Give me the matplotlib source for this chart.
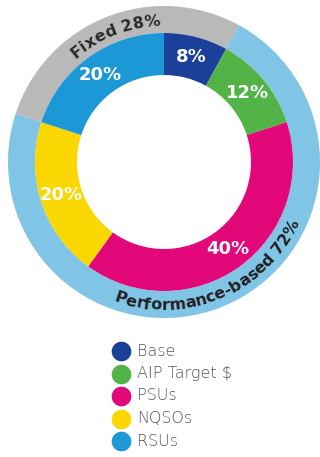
import numpy as np
import matplotlib.pyplot as plt
from matplotlib.font_manager import FontProperties, findfont, get_font

# pay mix, inner ring, clockwise from 12 o'clock
components = ['Base', 'AIP Target $', 'PSUs', 'NQSOs', 'RSUs']
shares = [8, 12, 40, 20, 20]
colors = ['#1b4099', '#52b447', '#e2087a', '#fad700', '#1c98d6']

# outer ring: fixed (RSUs + Base) vs performance-based
groups = ['Fixed', 'Performance-based']
group_shares = [28, 72]
group_colors = ['#b9b9b9', '#80c4e6']

W, H = 320, 457
fig = plt.figure(figsize=(W / 100, H / 100), dpi=100)
ax = fig.add_axes([0, 0, 1, 1])

cx, cy = 164, H - 162
r_out, r_mid, r_in = 156, 129, 87

# outer ring starts where the RSUs slice starts
start_outer = 90 + 360 * shares[-1] / 100
ax.pie(group_shares, colors=group_colors, radius=r_out, center=(cx, cy),
       startangle=start_outer, counterclock=False,
       wedgeprops=dict(width=r_out - r_mid, linewidth=0))
ax.pie(shares, colors=colors, radius=r_mid, center=(cx, cy),
       startangle=90, counterclock=False,
       wedgeprops=dict(width=r_mid - r_in, linewidth=0),
       autopct=lambda p: f'{p:.0f}%', pctdistance=(r_mid + r_in) / 2 / r_mid,
       textprops=dict(color='white', fontsize=13, fontweight='bold'))


def arc_text(s, radius, mid_deg, size, color, outward=True, spacing=1.0):
    fp = FontProperties(family='DejaVu Sans', weight='bold', size=size)
    font = get_font(findfont(fp))
    font.set_size(size, fig.dpi)

    # horizontal advance of each glyph, in pixels
    advs = []
    for ch in s:
        g = font.load_char(ord(ch))
        advs.append(g.linearHoriAdvance / 65536)
    advs = np.array(advs) * spacing
    total = advs.sum()
    left = np.concatenate([[0], np.cumsum(advs)[:-1]])

    for ch, l, a in zip(s, left, advs):
        pos = l + a / 2 - total / 2
        d = np.degrees(pos / radius)
        if outward:
            theta = mid_deg - d
            rot = theta - 90
        else:
            theta = mid_deg + d
            rot = theta + 90
        x = cx + radius * np.cos(np.radians(theta))
        y = cy + radius * np.sin(np.radians(theta))
        ax.text(x, y, ch, fontproperties=fp, color=color, rotation=rot,
                rotation_mode='anchor', ha='center', va='baseline')


arc_text(f'{groups[0]} {group_shares[0]}%', 136, 111, 11.5, '#2a2a2a', outward=True)
arc_text(f'{groups[1]} {group_shares[1]}%', 148, 293, 11.5, '#231f20', outward=False,
         spacing=1.01)

# legend
for i, (name, c) in enumerate(zip(components, colors)):
    y = H - 351 - 22.5 * i
    ax.scatter([121], [y], s=200, color=c, linewidths=0)
    ax.text(137, y, name, fontsize=11.5, color='#575757', va='center', ha='left',
            family='DejaVu Sans', fontweight='light')

ax.set_xlim(0, W)
ax.set_ylim(0, H)
ax.set_aspect('equal')
ax.axis('off')
fig.savefig('out.png', dpi=100)
